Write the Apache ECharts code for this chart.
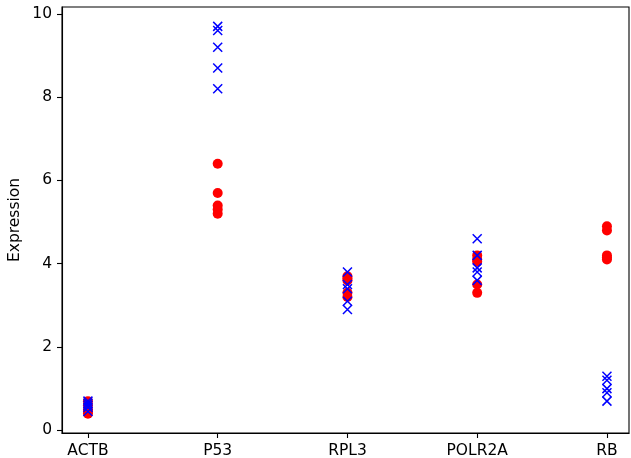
<!DOCTYPE html>
<html>
<head>
<meta charset="utf-8">
<script src="https://cdn.jsdelivr.net/npm/echarts@6/dist/echarts.min.js"></script>
<style>html,body{margin:0;padding:0;background:#fff}#c{width:631px;height:458px}</style>
</head>
<body>
<div id="c"></div>
<script>
const categories = ['ACTB', 'P53', 'RPL3', 'POLR2A', 'RB'];
const redValues = [
  [0.4, 0.5, 0.6, 0.7, 0.45],
  [6.4, 5.7, 5.4, 5.3, 5.2],
  [3.7, 3.65, 3.6, 3.3, 3.2],
  [4.2, 4.1, 4.05, 3.5, 3.3],
  [4.9, 4.8, 4.2, 4.1, 4.15]
];
const blueValues = [
  [0.45, 0.55, 0.6, 0.65, 0.7],
  [9.7, 9.6, 9.2, 8.7, 8.2],
  [3.8, 3.5, 3.4, 3.1, 2.9],
  [4.6, 4.2, 3.9, 3.8, 3.6],
  [1.3, 1.2, 1.0, 0.9, 0.7]
];
const yTicks = [0, 2, 4, 6, 8, 10];
const xTicks = [0, 1, 2, 3, 4];

function toPoints(vals) {
  const out = [];
  vals.forEach((arr, i) => arr.forEach(v => out.push([i, v])));
  return out;
}

const font = 'DejaVu Sans';
const fs = 15.5;
const chart = echarts.init(document.getElementById('c'));
chart.setOption({
  animation: false,
  grid: { left: 62, right: 2, top: 7, bottom: 25, outerBoundsMode: 'none', containLabel: false, show: true, borderColor: '#000', borderWidth: 1.1, backgroundColor: 'transparent' },
  xAxis: {
    type: 'value', min: -0.2, max: 4.17,
    axisLine: { show: true, onZero: false, lineStyle: { color: '#000', width: 1.1 } },
    axisTick: { show: true, length: 5, inside: false, customValues: xTicks, lineStyle: { color: '#000', width: 1.1 } },
    axisLabel: { customValues: xTicks, formatter: v => categories[Math.round(v)] || '', color: '#000', fontFamily: font, fontSize: fs, margin: 10 },
    splitLine: { show: false }
  },
  yAxis: {
    type: 'value', min: -0.065, max: 10.165,
    name: 'Expression', nameLocation: 'middle', nameGap: 39, nameMoveOverlap: false,
    nameTextStyle: { color: '#000', fontFamily: font, fontSize: fs },
    axisLine: { show: true, onZero: false, lineStyle: { color: '#000', width: 1.1 } },
    axisTick: { show: true, length: 5, customValues: yTicks, lineStyle: { color: '#000', width: 1.1 } },
    axisLabel: { customValues: yTicks, color: '#000', fontFamily: font, fontSize: fs, margin: 10 },
    splitLine: { show: false }
  },
  series: [
    {
      type: 'scatter', data: toPoints(redValues), symbol: 'circle', symbolSize: 10,
      itemStyle: { color: '#ff0000', opacity: 1 }, z: 2
    },
    {
      type: 'scatter', data: toPoints(blueValues), symbol: 'path://M0,0L10,10M10,0L0,10', symbolSize: 9,
      itemStyle: { color: 'none', borderColor: '#0000ff', borderWidth: 1.5, opacity: 1 }, z: 3
    }
  ]
});
</script>
</body>
</html>
